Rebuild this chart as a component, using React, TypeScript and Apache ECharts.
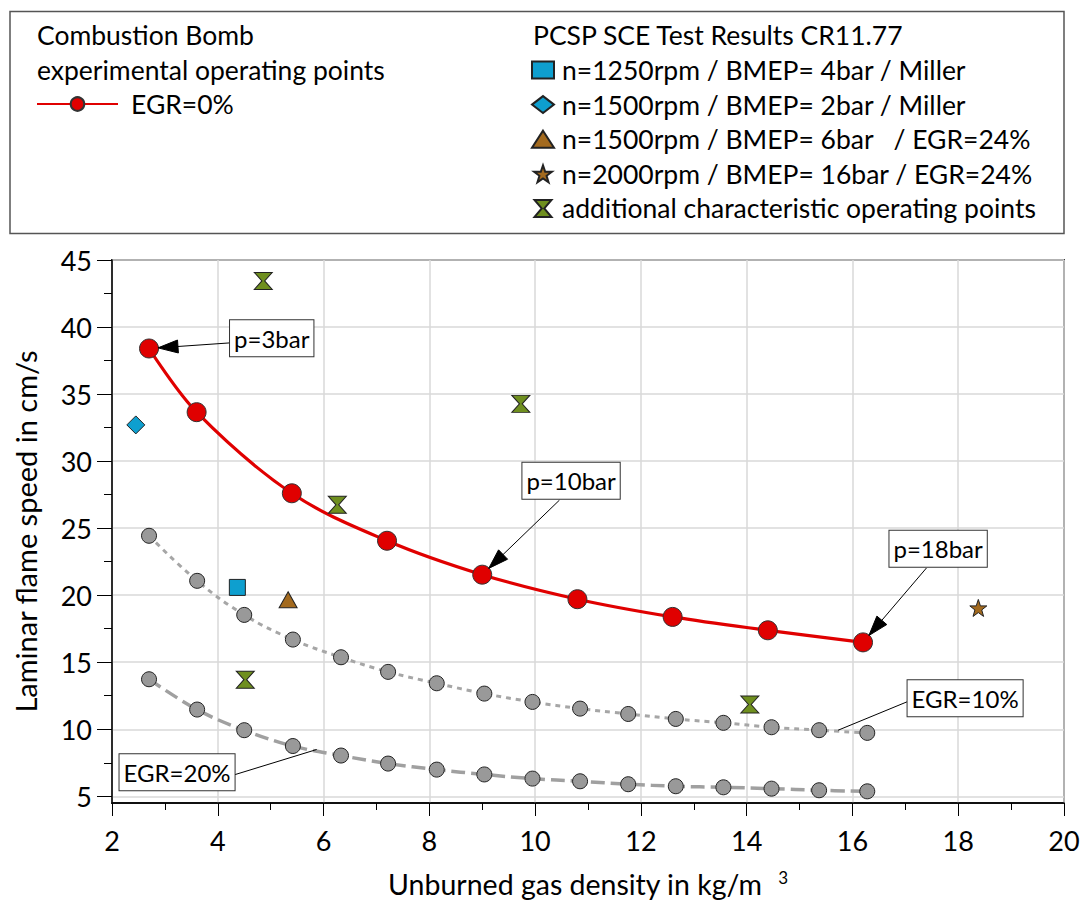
import React, { useEffect, useRef } from "react";
import * as echarts from "echarts";

const FONT = "Lato, 'Open Sans', sans-serif";

// axis ticks
const xMin = 2;
const xMax = 20;
const xStep = 2;
const yMin = 4.5;
const yMax = 45;
const yTicks = [5, 10, 15, 20, 25, 30, 35, 40, 45];
const yMinorTicks = [7.5, 12.5, 17.5, 22.5, 27.5, 32.5, 37.5, 42.5];

// Combustion bomb, EGR = 0 %
const egr0X = [2.7, 3.6, 5.4, 7.2, 9.0, 10.8, 12.6, 14.4, 16.2];
const egr0Y = [38.4, 33.65, 27.6, 24.06, 21.53, 19.7, 18.38, 17.38, 16.48];

// EGR = 10 % and EGR = 20 % (same densities)
const egrGrayX = [2.7, 3.61, 4.5, 5.42, 6.33, 7.22, 8.14, 9.04, 9.95, 10.85, 11.76, 12.66, 13.56, 14.47, 15.37, 16.28];
const egr10Y = [24.43, 21.07, 18.53, 16.69, 15.37, 14.28, 13.43, 12.66, 12.04, 11.54, 11.14, 10.77, 10.48, 10.15, 9.93, 9.73];
const egr20Y = [13.73, 11.47, 9.93, 8.75, 8.04, 7.44, 6.99, 6.63, 6.32, 6.12, 5.9, 5.75, 5.67, 5.57, 5.45, 5.37];

// PCSP SCE test results
const pt1250Miller = [[4.37, 20.58]];
const pt1500Miller = [[2.45, 32.7]];
const pt1500Egr = [[5.33, 19.66]];
const pt2000Egr = [[18.38, 19.05]];
const ptAdditional = [
  [4.86, 43.44],
  [9.73, 34.27],
  [6.26, 26.74],
  [4.52, 13.7],
  [14.06, 11.85],
];

const legendNames = [
  "n=1250rpm / BMEP= 4bar / Miller",
  "n=1500rpm / BMEP= 2bar / Miller",
  "n=1500rpm / BMEP= 6bar   / EGR=24%",
  "n=2000rpm / BMEP= 16bar / EGR=24%",
  "additional characteristic operating points",
];

// annotations (data coordinates)
const annotations = [
  { text: "p=3bar", box: [5.02, 39.17], start: [4.24, 38.82], target: [egr0X[0], egr0Y[0]], arrow: true },
  { text: "p=10bar", box: [10.68, 28.53], start: [10.46, 27.09], target: [egr0X[4], egr0Y[4]], arrow: true },
  { text: "p=18bar", box: [17.62, 23.47], start: [17.4, 22.03], target: [egr0X[8], egr0Y[8]], arrow: true },
  { text: "EGR=10%", box: [18.13, 12.31], start: [17.09, 12.14], target: [15.73, 9.93], arrow: false },
  { text: "EGR=20%", box: [3.23, 6.8], start: [4.27, 6.55], target: [5.87, 8.49], arrow: false },
];

const BLUE = "#0e9fcf";
const BROWN = "#a36a1e";
const GREEN = "#6f8f1f";
const RED = "#e00000";
const HOURGLASS = "path://M0,0L20,0L11.5,10L20,20L0,20L8.5,10Z";
const STAR =
  "path://M10,0L12.35,6.9L19.5,6.9L13.8,11.2L15.9,18.1L10,14L4.1,18.1L6.2,11.2L0.5,6.9L7.65,6.9Z";

function measure(text: string, font: string) {
  const c = document.createElement("canvas").getContext("2d")!;
  c.font = font;
  return c.measureText(text).width;
}

export default function App() {
  const ref = useRef<HTMLDivElement>(null);

  useEffect(() => {
    if (!ref.current) return;
    const chart = echarts.init(ref.current, null, { renderer: "svg" });

    const LEG_FS = 26.5;
    const tickFont = { fontFamily: FONT, fontSize: 27, color: "#000" };
    const legendText = { fontFamily: FONT, fontSize: LEG_FS, color: "#000", lineHeight: 28 };

    const option: any = {
      animation: false,
      backgroundColor: "#fff",
      grid: {
        left: 112,
        right: 19,
        top: 260,
        bottom: 99,
        show: true,
        borderColor: "#404040",
        borderWidth: 2,
        backgroundColor: "transparent",
      },
      xAxis: {
        type: "value",
        min: xMin,
        max: xMax,
        interval: xStep,
        axisLine: { show: true, lineStyle: { color: "#000", width: 1.5 } },
        axisTick: { show: true, length: 13, lineStyle: { color: "#000" } },
        minorTick: { show: true, splitNumber: 2, length: 7, lineStyle: { color: "#000" } },
        axisLabel: { ...tickFont, margin: 24 },
        splitLine: { show: true, lineStyle: { color: "#d9d9d9", width: 1.5 } },
      },
      yAxis: [
        {
          type: "value",
          min: yMin,
          max: yMax,
          position: "left",
          axisLine: { show: true, lineStyle: { color: "#000", width: 1.5 } },
          axisTick: { show: true, length: 15, customValues: yTicks, lineStyle: { color: "#000" } },
          axisLabel: { ...tickFont, margin: 20, customValues: yTicks },
          splitLine: { show: true, lineStyle: { color: "#d9d9d9", width: 1.5 } },
          name: "Laminar flame speed in cm/s",
          nameLocation: "middle",
          nameGap: 72,
          nameTextStyle: { fontFamily: FONT, fontSize: 29, color: "#000" },
        },
        {
          type: "value",
          min: yMin,
          max: yMax,
          position: "left",
          axisLine: { show: false },
          axisTick: { show: true, length: 8, customValues: yMinorTicks, lineStyle: { color: "#000" } },
          axisLabel: { show: false },
          splitLine: { show: false },
        },
      ],
      legend: [
        {
          data: ["EGR=0%"],
          left: 36,
          top: 90,
          padding: 0,
          itemWidth: 81,
          itemHeight: 17,
          selectedMode: false,
          textStyle: { ...legendText, padding: [0, 0, 0, 8] },
        },
        {
          data: legendNames,
          orient: "vertical",
          left: 531,
          top: 56,
          padding: 0,
          itemWidth: 22,
          itemHeight: 17,
          itemGap: 6.6,
          selectedMode: false,
          textStyle: { ...legendText, padding: [0, 0, 0, 3] },
        },
      ],
      series: [
        {
          name: "EGR=20%",
          type: "line",
          smooth: 0.4,
          data: egrGrayX.map((x, i) => [x, egr20Y[i]]),
          symbol: "circle",
          symbolSize: 15,
          lineStyle: { color: "#a0a0a0", width: 3.5, type: [14, 6] },
          itemStyle: { color: "#999", borderColor: "#222", borderWidth: 1 },
          z: 3,
        },
        {
          name: "EGR=10%",
          type: "line",
          smooth: 0.4,
          data: egrGrayX.map((x, i) => [x, egr10Y[i]]),
          symbol: "circle",
          symbolSize: 15,
          lineStyle: { color: "#a6a6a6", width: 3, type: [5, 5] },
          itemStyle: { color: "#999", borderColor: "#222", borderWidth: 1 },
          z: 3,
        },
        {
          name: "EGR=0%",
          type: "line",
          smooth: 0.35,
          data: egr0X.map((x, i) => [x, egr0Y[i]]),
          symbol: "circle",
          symbolSize: 19,
          lineStyle: { color: RED, width: 3.2 },
          itemStyle: { color: RED, borderColor: "#333", borderWidth: 1 },
          z: 4,
        },
        {
          name: legendNames[0],
          type: "scatter",
          data: pt1250Miller,
          symbol: "rect",
          symbolSize: 16,
          itemStyle: { color: BLUE, borderColor: "#222", borderWidth: 1, opacity: 1 },
          z: 5,
        },
        {
          name: legendNames[1],
          type: "scatter",
          data: pt1500Miller,
          symbol: "diamond",
          symbolSize: 18,
          itemStyle: { color: BLUE, borderColor: "#222", borderWidth: 1, opacity: 1 },
          z: 5,
        },
        {
          name: legendNames[2],
          type: "scatter",
          data: pt1500Egr,
          symbol: "triangle",
          symbolSize: [18, 16],
          itemStyle: { color: BROWN, borderColor: "#222", borderWidth: 1, opacity: 1 },
          z: 5,
        },
        {
          name: legendNames[3],
          type: "scatter",
          data: pt2000Egr,
          symbol: STAR,
          symbolSize: 17,
          itemStyle: { color: BROWN, borderColor: "#222", borderWidth: 1, opacity: 1 },
          z: 5,
        },
        {
          name: legendNames[4],
          type: "scatter",
          data: ptAdditional,
          symbol: HOURGLASS,
          symbolSize: [18, 17],
          itemStyle: { color: GREEN, borderColor: "#222", borderWidth: 1, opacity: 1 },
          z: 5,
        },
      ],
    };

    chart.setOption(option);

    const toPx = (p: number[]) => chart.convertToPixel({ xAxisIndex: 0, yAxisIndex: 0 }, p) as number[];

    const headerStyle = { fontFamily: FONT, fontSize: LEG_FS, fill: "#000", verticalAlign: "middle" };
    const graphics: any[] = [
      {
        type: "rect",
        shape: { x: 10, y: 11.5, width: 1054, height: 222 },
        style: { fill: "none", stroke: "#555", lineWidth: 1.5 },
        z: 1,
      },
      { type: "text", x: 37, y: 35, style: { ...headerStyle, text: "Combustion Bomb" } },
      { type: "text", x: 37, y: 70, style: { ...headerStyle, text: "experimental operating points" } },
      { type: "text", x: 533, y: 35, style: { ...headerStyle, text: "PCSP SCE Test Results CR11.77" } },
    ];

    // x axis title with superscript
    const xTitle = "Unburned gas density in kg/m";
    const X_FS = 28.5;
    const tw = measure(xTitle, `${X_FS}px ${FONT}`);
    const xCenter = 575;
    graphics.push({
      type: "text",
      x: xCenter,
      y: 884,
      style: { text: xTitle, fontFamily: FONT, fontSize: X_FS, fill: "#000", align: "center", verticalAlign: "middle" },
    });
    graphics.push({
      type: "text",
      x: xCenter + tw / 2 + 16,
      y: 877,
      style: { text: "3", fontFamily: FONT, fontSize: 17, fill: "#000", align: "left", verticalAlign: "middle" },
    });

    annotations.forEach((a) => {
      const [bx, by] = toPx(a.box);
      const [sx, sy] = toPx(a.start);
      const [tx, ty] = toPx(a.target);
      const dx = tx - sx;
      const dy = ty - sy;
      const len = Math.hypot(dx, dy);
      const ux = dx / len;
      const uy = dy / len;
      if (a.arrow) {
        const gap = 9;
        const tipX = tx - ux * gap;
        const tipY = ty - uy * gap;
        const hl = 20;
        const hw = 6.5;
        const baseX = tipX - ux * hl;
        const baseY = tipY - uy * hl;
        graphics.push({
          type: "line",
          shape: { x1: sx, y1: sy, x2: baseX + ux * 4, y2: baseY + uy * 4 },
          style: { stroke: "#000", lineWidth: 1 },
          z: 20,
        });
        graphics.push({
          type: "polygon",
          shape: {
            points: [
              [tipX, tipY],
              [baseX - uy * hw, baseY + ux * hw],
              [baseX + uy * hw, baseY - ux * hw],
            ],
          },
          style: { fill: "#000", stroke: "#000", lineWidth: 1 },
          z: 21,
        });
      } else {
        graphics.push({
          type: "line",
          shape: { x1: sx, y1: sy, x2: tx, y2: ty },
          style: { stroke: "#000", lineWidth: 1 },
          z: 20,
        });
      }
      graphics.push({
        type: "text",
        x: bx,
        y: by,
        z: 22,
        style: {
          text: a.text,
          fontFamily: FONT,
          fontSize: 24,
          fill: "#000",
          align: "center",
          verticalAlign: "middle",
          backgroundColor: "#fff",
          borderColor: "#333",
          borderWidth: 1,
          padding: [7, 4, 5, 4],
        },
      });
    });

    chart.setOption({ graphic: graphics });

    return () => chart.dispose();
  }, []);

  return (
    <div
      ref={ref}
      style={{ position: "absolute", left: 0, top: 0, width: 1083, height: 902, background: "#fff" }}
    />
  );
}
